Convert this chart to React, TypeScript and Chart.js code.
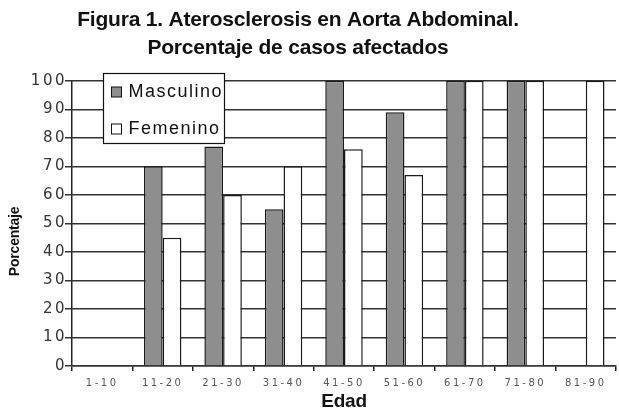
import React, { useEffect, useRef } from 'react';
import { Chart, registerables } from 'chart.js';

Chart.register(...registerables);

// ---- Data ----
const CATEGORIES = ['1-10', '11-20', '21-30', '31-40', '41-50', '51-60', '61-70', '71-80', '81-90'];
const MASCULINO = [0, 70, 77, 55, 100, 89, 100, 100, 0];
const FEMENINO = [0, 45, 60, 70, 76, 67, 100, 100, 100];
const SERIES_NAMES = ['Masculino', 'Femenino'];
const TITLE_LINES = ['Figura 1. Aterosclerosis en Aorta Abdominal.', 'Porcentaje de casos afectados'];
const X_TITLE = 'Edad';
const Y_TITLE = 'Porcentaje';
const Y_MIN = 0;
const Y_MAX = 100;
const Y_STEP = 10;

const SANS = '"Liberation Sans", Arial, Helvetica, sans-serif';
const TICK_FONT = '"DejaVu Sans", "Liberation Sans", sans-serif';

const legendAndSpacing = {
  id: 'legendAndSpacing',
  afterLayout(chart: any) {
    // move the y-axis title centre a little lower (reference places it below the middle)
    const y = chart.scales.y;
    y.bottom = y.bottom + 36;
  },
  beforeDraw(chart: any) {
    chart.ctx.letterSpacing = '-0.2px';
  },
  afterDatasetsDraw(chart: any) {
    const { ctx, chartArea } = chart;
    const x0 = Math.round(chartArea.left + 31) + 0.5;
    const y0 = Math.round(chartArea.top - 8) + 0.5;
    const w = 121;
    const h = 70;
    ctx.save();
    ctx.letterSpacing = '0px';
    ctx.fillStyle = '#ffffff';
    ctx.fillRect(x0, y0, w, h);
    ctx.strokeStyle = '#111111';
    ctx.lineWidth = 1.2;
    ctx.strokeRect(x0, y0, w, h);
    ctx.font = '18px ' + SANS;
    ctx.textBaseline = 'middle';
    ctx.textAlign = 'left';
    ctx.letterSpacing = '1.5px';
    chart.data.datasets.forEach((ds: any, i: number) => {
      const cy = y0 + 18.5 + i * 37;
      ctx.fillStyle = ds.backgroundColor;
      ctx.fillRect(x0 + 8, cy - 5, 10, 10);
      ctx.lineWidth = 1;
      ctx.strokeStyle = '#111111';
      ctx.strokeRect(x0 + 8, cy - 5, 10, 10);
      ctx.fillStyle = '#111111';
      ctx.fillText(ds.label, x0 + 25, cy + 0.5);
    });
    ctx.restore();
    ctx.letterSpacing = '2.5px';
  },
  afterDraw(chart: any) {
    chart.ctx.letterSpacing = '0px';
  },
};

export default function App() {
  const ref = useRef<HTMLCanvasElement>(null);

  useEffect(() => {
    const canvas = ref.current;
    if (!canvas) return;
    const chart = new Chart(canvas, {
      type: 'bar',
      data: {
        labels: CATEGORIES,
        datasets: [
          {
            label: SERIES_NAMES[0],
            data: MASCULINO,
            backgroundColor: '#8e8e8e',
            borderColor: '#1a1a1a',
            borderWidth: 1.5,
            categoryPercentage: 0.62,
            barPercentage: 1.0,
          },
          {
            label: SERIES_NAMES[1],
            data: FEMENINO,
            backgroundColor: '#ffffff',
            borderColor: '#1a1a1a',
            borderWidth: 1.5,
            categoryPercentage: 0.62,
            barPercentage: 1.0,
          },
        ],
      },
      options: {
        responsive: false,
        animation: false,
        devicePixelRatio: 1,
        layout: { padding: { left: -20, right: 3, top: 0, bottom: 0 } },
        plugins: {
          legend: { display: false },
          tooltip: { enabled: false },
          title: {
            display: true,
            text: TITLE_LINES,
            color: '#111111',
            font: { family: SANS, size: 21, weight: 'bold', lineHeight: 1.305 },
            padding: { top: 7, bottom: 19 },
          },
        },
        scales: {
          x: {
            type: 'category',
            grid: {
              display: true,
              drawOnChartArea: true,
              drawTicks: true,
              tickLength: 5,
              color: (c: any) => (c.index === 0 ? '#222222' : 'rgba(0,0,0,0)'),
              tickColor: '#222222',
              lineWidth: 1.5,
              offset: true,
            },
            border: { display: true, color: '#333333', width: 1.5 },
            ticks: {
              z: 1,
              autoSkip: false,
              maxRotation: 0,
              minRotation: 0,
              padding: 6,
              color: '#555555',
              font: { family: TICK_FONT, size: 10 },
            },
            title: {
              display: true,
              text: X_TITLE,
              color: '#111111',
              font: { family: SANS, size: 19, weight: 'bold', lineHeight: 0.9 },
              padding: 0,
            },
            afterFit: (s: any) => {
              s.height = 44;
            },
          },
          y: {
            min: Y_MIN,
            max: Y_MAX,
            grid: { color: '#333333', lineWidth: 1.5, tickLength: 7, drawTicks: true },
            border: { display: false },
            ticks: {
              z: 1,
              stepSize: Y_STEP,
              padding: -2,
              color: '#333333',
              font: { family: TICK_FONT, size: 15 },
            },
            title: {
              display: true,
              text: Y_TITLE,
              color: '#111111',
              font: { family: SANS, size: 14, weight: 'bold', lineHeight: 1.2 },
              padding: { top: 27, bottom: 0 },
            },
            afterFit: (s: any) => {
              s.width = 92;
            },
          },
        },
      },
      plugins: [legendAndSpacing],
    } as any);
    return () => chart.destroy();
  }, []);

  return (
    <div style={{ position: 'fixed', left: 0, top: 0, width: 619, height: 410, background: '#ffffff' }}>
      <canvas ref={ref} width={619} height={410} style={{ display: 'block', width: 619, height: 410 }} />
    </div>
  );
}
